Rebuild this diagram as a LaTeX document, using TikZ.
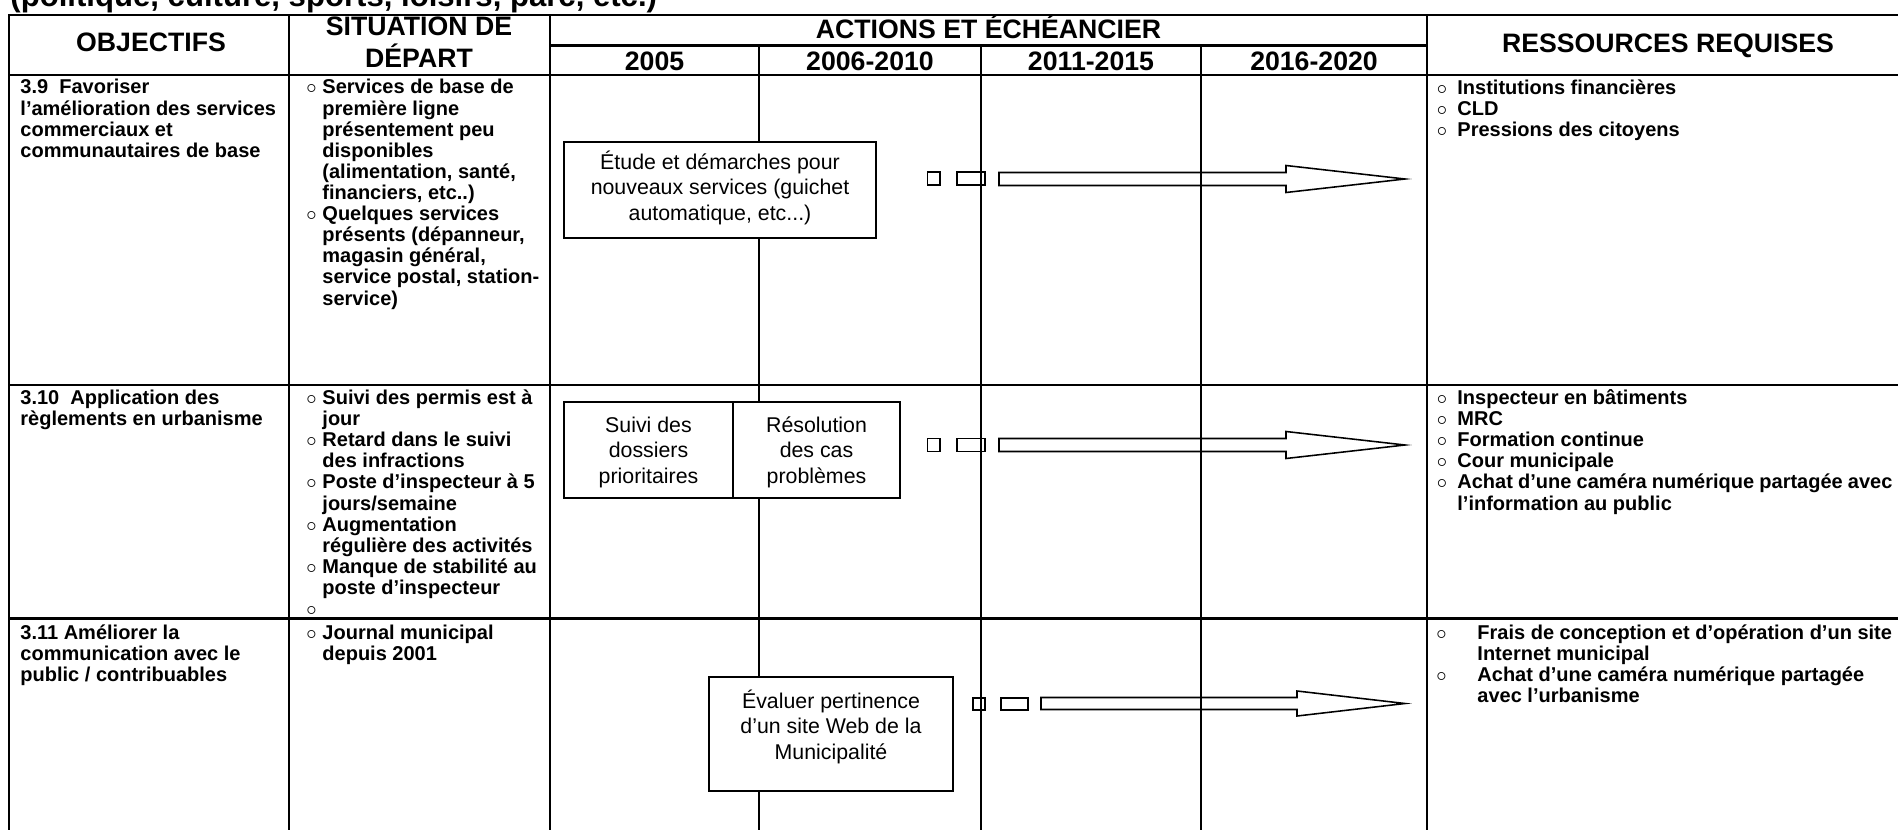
\documentclass[tikz,border=0pt]{standalone}
\usepackage{fontspec}
\setmainfont{Liberation Sans}
% bullets and hanging indents for the list cells
\newcommand\sitb{\makebox[7.2pt][l]{$\circ$}}
\newcommand\siti{\hspace*{7.2pt}}
\newcommand\resb{\makebox[9.2pt][l]{$\circ$}}
\newcommand\resi{\hspace*{9.2pt}}
\newcommand\resB{\makebox[18.45pt][l]{$\circ$}}
\newcommand\resI{\hspace*{18.45pt}}
\begin{document}
\begin{tikzpicture}[x=0.45pt,y=-0.45pt,
  rule/.style={line width=1.1pt, line cap=rect},
  hairrule/.style={line width=0.6pt},
  hdr/.style={font=\fontsize{12pt}{14.2pt}\bfseries, inner sep=0pt, anchor=base},
  cell/.style={font=\fontsize{9pt}{9.5pt}\bfseries, inner sep=0pt, anchor=base west},
  actbox/.style={draw, line width=0.75pt, fill=white, inner sep=0pt, anchor=base,
                 font=\fontsize{9.6pt}{11.4pt}\selectfont},
  tickbox/.style={draw, line width=0.7pt, inner sep=0pt},
  blockarrow/.style={draw, line width=0.7pt, line join=miter}
]
\useasboundingbox (0,0) rectangle (1898,830);
\clip (0,0) rectangle (1898,830);

% heading line above the table, cut by the page edge
\node[font=\fontsize{14pt}{16pt}\bfseries, inner sep=0pt, anchor=base west] (lead) at (10,6.5)
  {(politique, culture, sports, loisirs, parc, etc.)};

% ---- table rules ----
\draw[rule] (9,15) -- (1898,15);
\draw[rule] (9,15) -- (9,830);
\draw[rule] (289,15) -- (289,830);
\draw[rule] (550,15) -- (550,830);
\draw[rule] (1427,15) -- (1427,830);
\draw[rule] (550,45.5) -- (1427,45.5);
\draw[rule] (759,45.5) -- (759,75);
\draw[rule] (981,45.5) -- (981,75);
\draw[rule] (1201,45.5) -- (1201,75);
\draw[rule] (9,75) -- (1898,75);
\draw[rule] (9,385) -- (1898,385);
\draw[rule] (9,618.5) -- (1898,618.5);
\draw[hairrule] (759,75) -- (759,830);
\draw[hairrule] (981,75) -- (981,830);
\draw[hairrule] (1201,75) -- (1201,830);

% ---- header ----
\node[hdr] (hobj) at (151,52) {OBJECTIFS};
\node[hdr] (hsit) at (419,35.5) {\parbox[t]{120pt}{\centering SITUATION DE\\D\'EPART}};
\node[hdr] (hact) at (988.5,38.5) {ACTIONS ET \'ECH\'EANCIER};
\node[hdr] (y1) at (654.5,70.5) {2005};
\node[hdr] (y2) at (870,70.5) {2006-2010};
\node[hdr] (y3) at (1091,70.5) {2011-2015};
\node[hdr] (y4) at (1314,70.5) {2016-2020};
\node[hdr] (hres) at (1668,53) {RESSOURCES REQUISES};

% ---- objectives ----
\node[cell] (o1) at (20,94) {\parbox[t]{125pt}{\raggedright
  3.9\ \ Favoriser\\l’amélioration des services\\commerciaux et\\communautaires de base}};
\node[cell] (o2) at (20,404.5) {\parbox[t]{125pt}{\raggedright
  3.10\ \ Application des\\règlements en urbanisme}};
\node[cell] (o3) at (20,639) {\parbox[t]{125pt}{\raggedright
  3.11 Améliorer la\\communication avec le\\public / contribuables}};

% ---- starting situation ----
\node[cell] (s1) at (306,94) {\parbox[t]{118pt}{\raggedright
  \sitb Services de base de\\\siti première ligne\\\siti présentement peu\\
  \siti disponibles\\\siti (alimentation, santé,\\\siti financiers, etc..)\\
  \sitb Quelques services\\\siti présents (dépanneur,\\\siti magasin général,\\
  \siti service postal, station-\\\siti service)}};
\node[cell] (s2) at (306,404.5) {\parbox[t]{118pt}{\raggedright
  \sitb Suivi des permis est à\\\siti jour\\\sitb Retard dans le suivi\\
  \siti des infractions\\\sitb Poste d’inspecteur à 5\\\siti jours/semaine\\
  \sitb Augmentation\\\siti régulière des activités\\\sitb Manque de stabilité au\\
  \siti poste d’inspecteur\\\sitb}};
\node[cell] (s3) at (306,639) {\parbox[t]{118pt}{\raggedright
  \sitb Journal municipal\\\siti depuis 2001}};

% ---- resources ----
\node[cell] (r1) at (1436.5,94.5) {\parbox[t]{205pt}{\raggedright
  \resb Institutions financières\\\resb CLD\\\resb Pressions des citoyens}};
\node[cell] (r2) at (1436.5,404.5) {\parbox[t]{205pt}{\raggedright
  \resb Inspecteur en bâtiments\\\resb MRC\\\resb Formation continue\\
  \resb Cour municipale\\\resb Achat d’une caméra numérique partagée avec\\
  \resi l’information au public}};
\node[cell] (r3) at (1436,639.5) {\parbox[t]{205pt}{\raggedright
  \resB Frais de conception et d’opération d’un site\\\resI Internet municipal\\
  \resB Achat d’une caméra numérique partagée\\\resI avec l’urbanisme}};

% ---- actions: boxes, markers and timeline arrows ----
\node[actbox, text height=12.4pt, text depth=30.8pt] (b1) at (720,169.5)
  {\parbox[t]{140.4pt}{\centering Étude et démarches pour\\nouveaux services (guichet\\automatique, etc...)}};
\node[actbox, text height=13.7pt, text depth=29.5pt] (b2a) at (648.5,432.5)
  {\parbox[t]{76.05pt}{\centering Suivi des\\dossiers\\prioritaires}};
\node[actbox, text height=13.7pt, text depth=29.5pt] (b2b) at (816.5,432.5)
  {\parbox[t]{75.15pt}{\centering Résolution\\des cas\\problèmes}};
\node[actbox, text height=14.2pt, text depth=37.1pt] (b3) at (831,708.5)
  {\parbox[t]{109.8pt}{\centering Évaluer pertinence\\d’un site Web de la\\Municipalité}};

\node[tickbox, minimum width=5.6pt, minimum height=5.85pt] (t1a) at (933.75,178.5) {};
\node[tickbox, minimum width=12.6pt, minimum height=5.85pt] (t1b) at (971,178.5) {};
\node[tickbox, minimum width=5.6pt, minimum height=5.85pt] (t2a) at (933.75,445) {};
\node[tickbox, minimum width=12.6pt, minimum height=5.85pt] (t2b) at (971,445) {};
\node[tickbox, minimum width=5.4pt, minimum height=5.4pt] (t3a) at (979,704) {};
\node[tickbox, minimum width=12.15pt, minimum height=5.4pt] (t3b) at (1014.5,704) {};

\draw[blockarrow] (999,172.5) -- (1286,172.5) -- (1286,165.5) -- (1405,179)
  -- (1286,192.5) -- (1286,185.5) -- (999,185.5) -- cycle;
\draw[blockarrow] (999,438.5) -- (1286,438.5) -- (1286,431.5) -- (1405,445)
  -- (1286,458.5) -- (1286,451.5) -- (999,451.5) -- cycle;
\draw[blockarrow] (1041,697.5) -- (1297,697.5) -- (1297,691) -- (1405,703.5)
  -- (1297,716) -- (1297,709.5) -- (1041,709.5) -- cycle;
\end{tikzpicture}
\end{document}
